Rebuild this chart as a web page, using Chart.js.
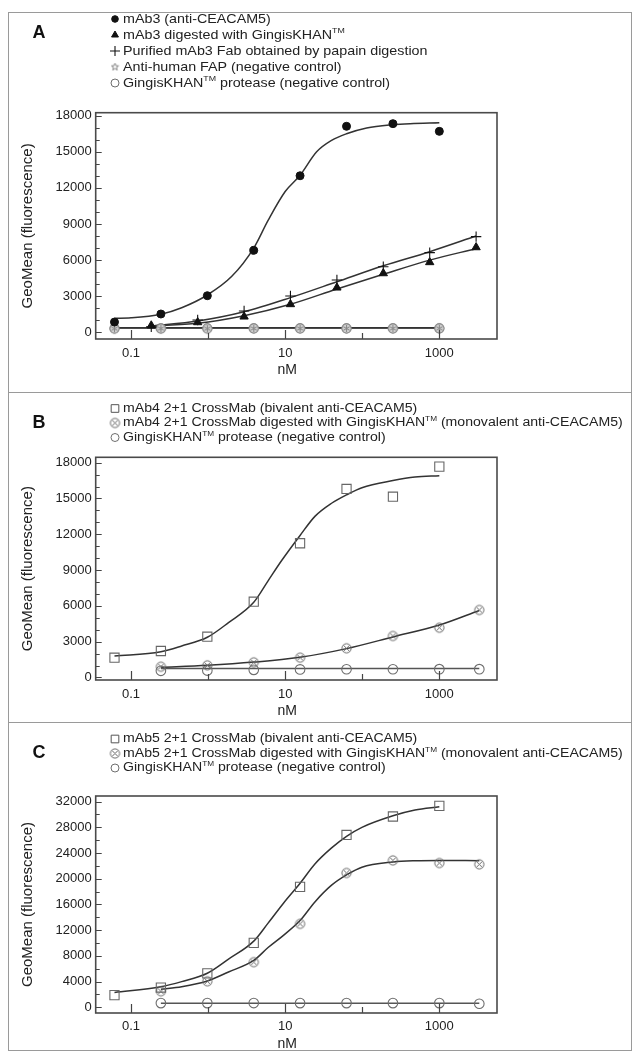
<!DOCTYPE html>
<html><head><meta charset="utf-8">
<script src="https://cdn.jsdelivr.net/npm/chart.js@4/dist/chart.umd.min.js"></script>
<style>
html,body{margin:0;padding:0;background:#fff;}
#wrap{position:relative;width:636px;height:1053px;overflow:hidden;background:#fff;}
.panel{position:absolute;left:0;width:636px;}
canvas{display:block;}
.frame{position:absolute;left:8px;top:12px;width:624px;height:1039px;border:1px solid #9a9a9a;box-sizing:border-box;}
.sep{position:absolute;left:8px;width:624px;height:0;border-top:1px solid #9a9a9a;}
</style></head>
<body><div id="wrap">
<div class="frame"></div>
<div class="sep" style="top:392px"></div>
<div class="sep" style="top:722px"></div>
<div class="panel" style="top:0px;height:392px"><canvas id="cA" width="636" height="392"></canvas></div>
<div class="panel" style="top:392px;height:330px"><canvas id="cB" width="636" height="330"></canvas></div>
<div class="panel" style="top:722px;height:331px"><canvas id="cC" width="636" height="331"></canvas></div>
</div>
<script>
// ---------------- DATA ----------------
const xTickValues = [0.1, 1, 10, 100, 1000];
const xTickLabels = ['0.1', '', '10', '', '1000'];
const yTicksAB = [0, 3000, 6000, 9000, 12000, 15000, 18000];
const yTicksC = [0, 4000, 8000, 12000, 16000, 20000, 24000, 28000, 32000];

// Panel A
const xA_mAb = [0.061, 0.244, 0.977, 3.91, 15.6, 62.5, 250, 1000];
const yA_mAb = [850, 1520, 3040, 6810, 13010, 17120, 17340, 16700];
const xA_mAbFit = [0.061, 0.1, 0.244, 0.454, 0.977, 2.03, 3.91, 6.0, 10, 15.6, 25.6, 40, 62.5, 114, 250, 418, 1000];
const yA_mAbFit = [1160, 1200, 1500, 2040, 3100, 4650, 7000, 9300, 11700, 13050, 15000, 15950, 16500, 16980, 17250, 17340, 17420];
const xA_dig = [0.183, 0.732, 2.93, 11.7, 46.9, 187.5, 750, 3000];
const yA_dig = [560, 830, 1300, 2330, 3710, 4900, 5820, 7060];
const yA_digFit = [520, 750, 1380, 2330, 3600, 4820, 6000, 6950];
const yA_fab = [450, 1020, 1770, 3020, 4350, 5450, 6620, 7950];
const yA_fabFit = [520, 940, 1710, 2880, 4200, 5530, 6700, 8000];
const yA_fap = [300, 310, 300, 320, 320, 320, 320, 330];
const yA_fapFit = [370, 370, 370, 370, 370, 370, 370, 370];
const yA_khan = [330, 330, 340, 330, 330, 330, 330, 330];
const yA_khanFit = [360, 360, 360, 360, 360, 360, 360, 360];

// Panel B
const xB_biv = [0.061, 0.244, 0.977, 3.91, 15.6, 62.5, 250, 1000];
const yB_biv = [1660, 2220, 3420, 6350, 11250, 15800, 15150, 17670];
const xB_bivFit = [0.061, 0.244, 0.454, 0.977, 1.84, 3.91, 6.0, 9.0, 15.6, 24.3, 40, 62.5, 99, 250, 483, 1000];
const yB_bivFit = [1800, 2160, 2640, 3370, 4600, 6300, 8100, 9800, 11900, 13500, 14600, 15300, 15900, 16500, 16800, 16900];
const xB_mono = [0.244, 0.977, 3.91, 15.6, 62.5, 250, 1000, 3300];
const yB_mono = [905, 1020, 1270, 1660, 2450, 3480, 4170, 5660];
const yB_monoFit = [850, 1020, 1290, 1700, 2420, 3400, 4400, 5620];
const yB_khan = [560, 580, 640, 680, 690, 690, 700, 700];
const yB_khanFit = [750, 750, 750, 750, 750, 750, 750, 750];

// Panel C
const xC_biv = [0.061, 0.244, 0.977, 3.91, 15.6, 62.5, 250, 1000];
const yC_biv = [1895, 3080, 5290, 10020, 18740, 26810, 29680, 31330];
const xC_bivFit = [0.061, 0.244, 0.454, 0.977, 1.84, 3.91, 6.0, 9.5, 15.6, 24.3, 40, 62.5, 99, 250, 483, 1000];
const yC_bivFit = [2310, 3200, 4000, 5300, 7500, 10300, 13100, 16200, 19300, 22300, 24800, 26600, 28000, 29800, 30700, 31200];
const xC_mono = [0.244, 0.977, 3.91, 15.6, 62.5, 250, 1000, 3300];
const yC_mono = [2500, 4050, 7030, 12990, 20900, 22850, 22440, 22240];
const xC_monoFit = [0.244, 0.454, 0.977, 1.84, 3.91, 6.0, 9.5, 15.6, 24.3, 40, 62.5, 99, 250, 483, 1000, 3300];
const yC_monoFit = [2800, 3200, 4100, 5500, 7300, 9300, 11200, 13500, 16400, 19000, 20600, 21800, 22600, 22800, 22850, 22800];
const yC_khan = [660, 660, 670, 660, 660, 660, 660, 560];
const yC_khanFit = [650, 650, 650, 650, 650, 650, 650, 650];

const legendA = ['mAb3 (anti-CEACAM5)', 'mAb3 digested with GingisKHAN^TM', 'Purified mAb3 Fab obtained by papain digestion', 'Anti-human FAP (negative control)', 'GingisKHAN^TM protease (negative control)'];
const legendB = ['mAb4 2+1 CrossMab (bivalent anti-CEACAM5)', 'mAb4 2+1 CrossMab digested with GingisKHAN^TM (monovalent anti-CEACAM5)', 'GingisKHAN^TM protease (negative control)'];
const legendC = ['mAb5 2+1 CrossMab (bivalent anti-CEACAM5)', 'mAb5 2+1 CrossMab digested with GingisKHAN^TM (monovalent anti-CEACAM5)', 'GingisKHAN^TM protease (negative control)'];
const xTitle = 'nM';
const yTitle = 'GeoMean (fluorescence)';

// ---------------- STYLE ----------------
const FONT = "'Liberation Sans', Arial, Helvetica, sans-serif";
const X_MIN = 0.0348, X_MAX = 5600;
const INK = '#222', LINE = '#333', GRAY = '#6e6e6e';

function makeOx(color) {
  const c = document.createElement('canvas'); c.width = 13; c.height = 13;
  const g = c.getContext('2d'); g.strokeStyle = color; g.lineWidth = 1;
  g.beginPath(); g.arc(6.5, 6.5, 4.6, 0, 2 * Math.PI); g.stroke();
  const d = 3.1; g.beginPath();
  g.moveTo(6.5 - d, 6.5 - d); g.lineTo(6.5 + d, 6.5 + d);
  g.moveTo(6.5 + d, 6.5 - d); g.lineTo(6.5 - d, 6.5 + d); g.stroke();
  return c;
}
function makeStarCircle(color) {
  const c = document.createElement('canvas'); c.width = 13; c.height = 13;
  const g = c.getContext('2d'); g.strokeStyle = color; g.fillStyle = '#cfcfcf'; g.lineWidth = 1;
  g.beginPath(); g.arc(6.5, 6.5, 4.6, 0, 2 * Math.PI); g.fill(); g.stroke();
  g.beginPath();
  for (let k = 0; k < 3; k++) { const a = k * Math.PI / 3 + Math.PI / 2; g.moveTo(6.5 + 3.6 * Math.cos(a), 6.5 + 3.6 * Math.sin(a)); g.lineTo(6.5 - 3.6 * Math.cos(a), 6.5 - 3.6 * Math.sin(a)); }
  g.stroke();
  return c;
}
function makeSmallStar(color) {
  const c = document.createElement('canvas'); c.width = 9; c.height = 9;
  const g = c.getContext('2d'); g.strokeStyle = color; g.lineWidth = 0.9;
  g.beginPath();
  for (let k = 0; k < 5; k++) {
    const a1 = -Math.PI / 2 + k * 2 * Math.PI / 5, a2 = a1 + Math.PI / 5;
    const p1 = [4.5 + 3.8 * Math.cos(a1), 4.5 + 3.8 * Math.sin(a1)], p2 = [4.5 + 1.6 * Math.cos(a2), 4.5 + 1.6 * Math.sin(a2)];
    if (k === 0) g.moveTo(p1[0], p1[1]); else g.lineTo(p1[0], p1[1]);
    g.lineTo(p2[0], p2[1]);
  }
  g.closePath(); g.stroke();
  return c;
}
const OX = makeOx('#666');
const STARC = makeStarCircle('#888');
const SSTAR = makeSmallStar('#777');

function pts(xs, ys) { return xs.map((x, i) => ({ x: x, y: ys[i] })); }
function fitDs(xs, ys, color) {
  return { data: pts(xs, ys), showLine: true, borderColor: color || LINE, borderWidth: 1.5, pointRadius: 0, pointHoverRadius: 0,
    cubicInterpolationMode: 'monotone', fill: false, order: 10 };
}
function markDs(xs, ys, style, r, stroke, fill, bw) {
  return { data: pts(xs, ys), showLine: false, pointStyle: style, pointRadius: r, pointHoverRadius: r,
    borderColor: stroke, backgroundColor: fill, pointBorderWidth: bw, borderWidth: bw, order: 1 };
}

function drawMarker(ctx, m, x, y) {
  ctx.save();
  ctx.strokeStyle = m.stroke || INK; ctx.fillStyle = m.fill || 'rgba(0,0,0,0)'; ctx.lineWidth = m.bw || 1;
  if (Chart.helpers && Chart.helpers.drawPoint) {
    Chart.helpers.drawPoint(ctx, { pointStyle: m.style, radius: m.r, borderWidth: m.bw || 1, rotation: 0 }, x, y);
  }
  ctx.restore();
}
function drawLabel(ctx, text, x, y, size, sx) {
  ctx.save();
  ctx.translate(x, y); ctx.scale(sx, 1);
  ctx.fillStyle = INK; ctx.textBaseline = 'middle'; ctx.textAlign = 'left';
  const parts = text.split('^TM');
  ctx.font = size + 'px ' + FONT;
  let cx = 0;
  ctx.fillText(parts[0], cx, 0); cx += ctx.measureText(parts[0]).width;
  if (parts.length > 1) {
    ctx.font = Math.round(size * 0.62) + 'px ' + FONT;
    ctx.fillText('TM', cx, -size * 0.32); cx += ctx.measureText('TM').width;
    ctx.font = size + 'px ' + FONT;
    ctx.fillText(parts[1], cx, 0);
  }
  ctx.restore();
}

const panelDeco = {
  id: 'panelDeco',
  afterDraw(chart, args, o) {
    const ctx = chart.ctx, ca = chart.chartArea, xs = chart.scales.x, ys = chart.scales.y;
    ctx.save();
    // inward ticks on left axis
    ctx.strokeStyle = '#444'; ctx.lineWidth = 1.2;
    ctx.beginPath();
    for (let v = 0; v <= ys.max + 1e-6; v += o.yMinor) {
      const py = Math.round(ys.getPixelForValue(v)) + 0.5;
      const major = o.yTicks.indexOf(v) >= 0;
      ctx.moveTo(ca.left, py); ctx.lineTo(ca.left + (major ? 6 : 4), py);
    }
    // inward ticks on bottom axis
    xTickValues.forEach((v, i) => {
      const px = Math.round(xs.getPixelForValue(v)) + 0.5;
      ctx.moveTo(px, ca.bottom); ctx.lineTo(px, ca.bottom - (xTickLabels[i] ? 9 : 6));
    });
    ctx.stroke();
    // frame
    ctx.strokeStyle = '#4a4a4a'; ctx.lineWidth = 1.6;
    ctx.strokeRect(ca.left, ca.top, ca.right - ca.left, ca.bottom - ca.top);
    // x axis title, centred under the "10" label
    ctx.fillStyle = INK; ctx.font = '14px ' + FONT; ctx.textAlign = 'center'; ctx.textBaseline = 'middle';
    ctx.fillText(xTitle, xs.getPixelForValue(10) + 2, o.nmY);
    // panel letter
    ctx.fillStyle = '#111'; ctx.font = 'bold 18px ' + FONT; ctx.textAlign = 'center'; ctx.textBaseline = 'middle';
    ctx.fillText(o.letter, o.letterX, o.letterY);
    // legend
    o.legend.forEach((lab, i) => {
      const y = o.legY0 + i * o.legDy;
      drawMarker(ctx, o.markers[i], o.legMX, y);
      drawLabel(ctx, lab, o.legTX, y, o.legSize, o.legSx);
    });
    ctx.restore();
  }
};

function makeChart(id, cfg) {
  return new Chart(document.getElementById(id), {
    type: 'scatter',
    data: { datasets: cfg.datasets },
    options: {
      responsive: false, animation: false, events: [],
      layout: { padding: { left: 8, right: 139, top: cfg.top, bottom: cfg.padBottom } },
      plugins: { legend: { display: false }, tooltip: { enabled: false }, panelDeco: cfg.deco },
      scales: {
        x: {
          type: 'logarithmic', min: X_MIN, max: X_MAX,
          grid: { display: false, drawTicks: false }, border: { display: false },
          afterBuildTicks: s => { s.ticks = xTickValues.map(v => ({ value: v })); },
          afterFit: s => { s.height = 40; },
          ticks: { autoSkip: false, maxRotation: 0, minRotation: 0, padding: cfg.xPad, color: INK, font: { family: FONT, size: 13 },
            callback: (v) => { const i = xTickValues.indexOf(v); return i >= 0 ? xTickLabels[i] : ''; } },
          title: { display: false, text: xTitle }
        },
        y: {
          type: 'linear', min: cfg.yMin, max: cfg.yMax,
          grid: { display: false, drawTicks: false }, border: { display: false },
          afterBuildTicks: s => { s.ticks = cfg.yTicks.map(v => ({ value: v })); },
          afterFit: s => { s.width = 87.7; },
          ticks: { padding: 4, color: INK, font: { family: FONT, size: 13 }, callback: v => String(v) },
          title: { display: true, text: yTitle, color: INK, font: { family: FONT, size: 15 }, padding: { top: 11, bottom: 0 } }
        }
      }
    },
    plugins: [panelDeco]
  });
}

const mDotLeg = { style: 'circle', r: 3.3, stroke: '#111', fill: '#111', bw: 1 };
const mTriLeg = { style: 'triangle', r: 4, stroke: '#111', fill: '#111', bw: 1 };
const mCrossLeg = { style: 'cross', r: 5, stroke: '#111', fill: '#111', bw: 1.1 };
const mStarLeg = { style: SSTAR, r: 4 };
const mCircleLeg = { style: 'circle', r: 4, stroke: GRAY, fill: 'rgba(0,0,0,0)', bw: 1 };
const mRectLeg = { style: 'rect', r: 5.4, stroke: '#555', fill: 'rgba(0,0,0,0)', bw: 1 };
const mOxLeg = { style: OX, r: 5 };

// Panel A
makeChart('cA', {
  top: 112.7, padBottom: 13, xPad: 6.5, yMin: -557, yMax: 18250, yTicks: yTicksAB,
  datasets: [
    markDs(xA_mAb, yA_mAb, 'circle', 4, '#111', '#111', 1),
    markDs(xA_dig, yA_dig, 'triangle', 4.8, '#111', '#111', 1),
    markDs(xA_dig, yA_fab, 'cross', 5.2, '#111', '#111', 1.1),
    markDs(xA_mAb, yA_fap, STARC, 5, '#888', '#ccc', 1),
    markDs(xA_mAb, yA_khan, 'circle', 4.5, GRAY, 'rgba(0,0,0,0)', 1.1),
    fitDs(xA_mAbFit, yA_mAbFit),
    fitDs(xA_dig, yA_digFit),
    fitDs(xA_dig, yA_fabFit),
    fitDs(xA_mAb, yA_fapFit),
    fitDs(xA_mAb, yA_khanFit)
  ],
  deco: { letter: 'A', letterX: 39, letterY: 33, yMinor: 1000, yTicks: yTicksAB, nmY: 370,
    legend: legendA, markers: [mDotLeg, mTriLeg, mCrossLeg, mStarLeg, mCircleLeg],
    legMX: 115, legTX: 123, legY0: 19, legDy: 16, legSize: 13, legSx: 1.1 }
});

// Panel B
makeChart('cB', {
  top: 65.3, padBottom: 2, xPad: 7, yMin: -210, yMax: 18450, yTicks: yTicksAB,
  datasets: [
    markDs(xB_biv, yB_biv, 'rect', 6.5, '#666', 'rgba(0,0,0,0)', 1.1),
    markDs(xB_mono, yB_mono, OX, 5, '#666', 'rgba(0,0,0,0)', 1),
    markDs(xB_mono, yB_khan, 'circle', 4.8, GRAY, 'rgba(0,0,0,0)', 1.1),
    fitDs(xB_bivFit, yB_bivFit),
    fitDs(xB_mono, yB_monoFit),
    fitDs(xB_mono, yB_khanFit, '#555')
  ],
  deco: { letter: 'B', letterX: 39, letterY: 31, yMinor: 1000, yTicks: yTicksAB, nmY: 319,
    legend: legendB, markers: [mRectLeg, mOxLeg, mCircleLeg],
    legMX: 115, legTX: 123, legY0: 16.5, legDy: 14.5, legSize: 12, legSx: 1.175 }
});

// Panel C
makeChart('cC', {
  top: 74, padBottom: 0, xPad: 5.5, yMin: -880, yMax: 32870, yTicks: yTicksC,
  datasets: [
    markDs(xC_biv, yC_biv, 'rect', 6.5, '#666', 'rgba(0,0,0,0)', 1.1),
    markDs(xC_mono, yC_mono, OX, 5, '#666', 'rgba(0,0,0,0)', 1),
    markDs(xC_mono, yC_khan, 'circle', 4.8, GRAY, 'rgba(0,0,0,0)', 1.1),
    fitDs(xC_bivFit, yC_bivFit),
    fitDs(xC_monoFit, yC_monoFit),
    fitDs(xC_mono, yC_khanFit, '#555')
  ],
  deco: { letter: 'C', letterX: 39, letterY: 31, yMinor: 2000, yTicks: yTicksC, nmY: 322,
    legend: legendC, markers: [mRectLeg, mOxLeg, mCircleLeg],
    legMX: 115, legTX: 123, legY0: 17, legDy: 14.5, legSize: 12, legSx: 1.175 }
});
</script>
</body></html>
